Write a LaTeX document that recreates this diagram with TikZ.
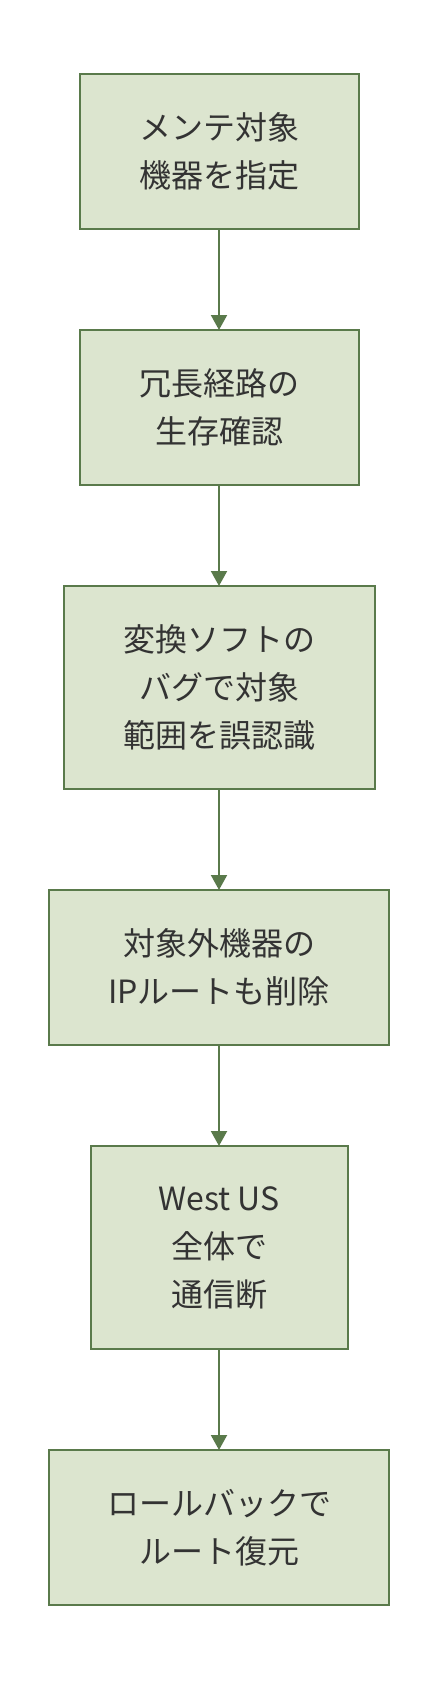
\documentclass[tikz,border=0pt]{standalone}
\usepackage{fontspec}
\setmainfont{Noto Sans CJK JP}
\usetikzlibrary{positioning,arrows.meta}
\definecolor{verdeclaro}{HTML}{DCE5CF}
\definecolor{verdeescuro}{HTML}{5A7A4B}
\definecolor{texto}{HTML}{333333}
\begin{document}
\begin{tikzpicture}
\tikzstyle{etapa}=[rectangle, draw=verdeescuro, fill=verdeclaro, line width=2pt, minimum height=155pt, inner sep=0pt, outer sep=0pt, align=center, text=texto, font=\fontsize{32}{48}\selectfont]
\tikzstyle{etapalonga}=[etapa, minimum height=203pt]
\tikzstyle{seta}=[-{Triangle[width=16pt,length=15pt]}, line width=2pt, draw=verdeescuro, fill=verdeescuro]
\useasboundingbox(0,0) rectangle (438pt,-1684pt);
\node[etapa, minimum width=279pt] (alvo) at (219pt,-151.5pt) {メンテ対象\\機器を指定};
\node[etapa, minimum width=279pt, below=101pt of alvo] (redund) {冗長経路の\\生存確認};
\node[etapalonga, minimum width=311pt, below=101pt of redund] (bug) {変換ソフトの\\バグで対象\\範囲を誤認識};
\node[etapa, minimum width=340pt, below=101pt of bug] (rota) {対象外機器の\\IPルートも削除};
\node[etapalonga, minimum width=257pt, below=101pt of rota] (queda) {West US\\全体で\\通信断};
\node[etapa, minimum width=340pt, below=101pt of queda] (volta) {ロールバックで\\ルート復元};
\draw[seta](alvo)--(redund);
\draw[seta](redund)--(bug);
\draw[seta](bug)--(rota);
\draw[seta](rota)--(queda);
\draw[seta](queda)--(volta);
\end{tikzpicture}
\end{document}
